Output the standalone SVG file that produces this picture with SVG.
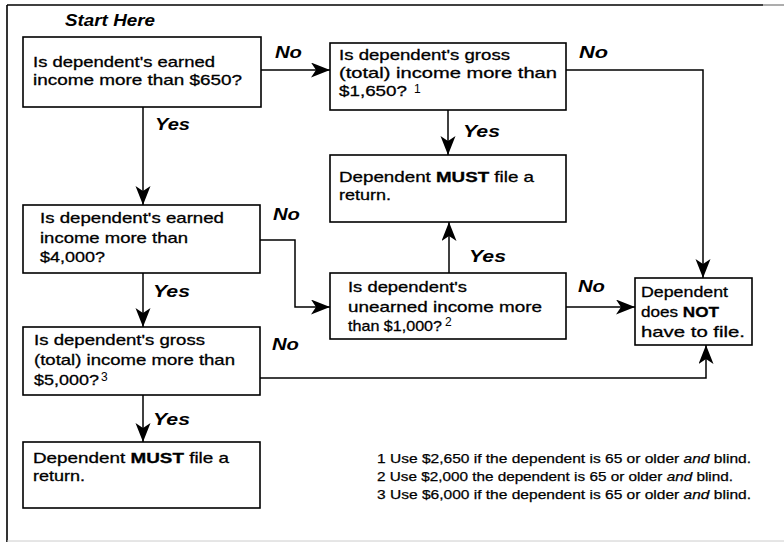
<svg xmlns="http://www.w3.org/2000/svg" width="784" height="542" viewBox="0 0 784 542">
<style>
.box{fill:#fff;stroke:#000;stroke-width:1.6}
.t{font-family:"Liberation Sans",Arial,sans-serif;font-size:15px;fill:#000;stroke:#000;stroke-width:0.3}
.b{font-weight:bold}
.lbl{font-family:"Liberation Sans",Arial,sans-serif;font-size:17px;font-weight:bold;font-style:italic;fill:#000}
.sup{font-family:"Liberation Sans",Arial,sans-serif;font-size:12px;fill:#000}
.fn{font-family:"Liberation Sans",Arial,sans-serif;font-size:13px;fill:#000;stroke:#000;stroke-width:0.25}
.c{fill:none;stroke:#000;stroke-width:1.5}
</style>
<defs>
<marker id="ah" markerUnits="userSpaceOnUse" markerWidth="22" markerHeight="16" refX="19" refY="7.5" orient="auto">
<path d="M0,0 L19,7.5 L0,15 L5,7.5 Z" fill="#000"/>
</marker>
</defs>
<rect width="784" height="542" fill="#fff"/>
<g id="frame">
<line x1="7" y1="5" x2="763" y2="5" stroke="#000" stroke-width="1.6"/>
<line x1="763" y1="5" x2="784" y2="5" stroke="#999" stroke-width="1.6"/>
<line x1="7" y1="5" x2="7" y2="542" stroke="#000" stroke-width="1.6"/>
<line x1="7" y1="541" x2="784" y2="541" stroke="#ccc" stroke-width="1"/>
</g>
<text class="lbl" x="65" y="26" font-size="15" textLength="90" lengthAdjust="spacingAndGlyphs">Start Here</text>
<g id="connectors">
<line class="c" x1="261" y1="70" x2="330" y2="70" marker-end="url(#ah)"/>
<line class="c" x1="143" y1="107" x2="143" y2="205" marker-end="url(#ah)"/>
<line class="c" x1="448" y1="110" x2="448" y2="155" marker-end="url(#ah)"/>
<polyline class="c" points="566,70 703,70 703,278" marker-end="url(#ah)"/>
<polyline class="c" points="260,240 295,240 295,307 330,307" marker-end="url(#ah)"/>
<line class="c" x1="143" y1="273" x2="143" y2="327" marker-end="url(#ah)"/>
<line class="c" x1="449" y1="273" x2="449" y2="222" marker-end="url(#ah)"/>
<line class="c" x1="566" y1="307" x2="635" y2="307" marker-end="url(#ah)"/>
<polyline class="c" points="260,378 706,378 706,345" marker-end="url(#ah)"/>
<line class="c" x1="143" y1="395" x2="143" y2="442" marker-end="url(#ah)"/>
<text class="lbl" x="275" y="58" textLength="27" lengthAdjust="spacingAndGlyphs">No</text>
<text class="lbl" x="155" y="130" textLength="35" lengthAdjust="spacingAndGlyphs">Yes</text>
<text class="lbl" x="579" y="58" textLength="29" lengthAdjust="spacingAndGlyphs">No</text>
<text class="lbl" x="463" y="137" textLength="37" lengthAdjust="spacingAndGlyphs">Yes</text>
<text class="lbl" x="273" y="220" textLength="27" lengthAdjust="spacingAndGlyphs">No</text>
<text class="lbl" x="153" y="297" textLength="37" lengthAdjust="spacingAndGlyphs">Yes</text>
<text class="lbl" x="469" y="262" textLength="37" lengthAdjust="spacingAndGlyphs">Yes</text>
<text class="lbl" x="578" y="292" textLength="27" lengthAdjust="spacingAndGlyphs">No</text>
<text class="lbl" x="272" y="350" textLength="27" lengthAdjust="spacingAndGlyphs">No</text>
<text class="lbl" x="153" y="425" textLength="37" lengthAdjust="spacingAndGlyphs">Yes</text>
</g>
<g id="q1">
<rect class="box" x="23" y="37" width="238" height="70"/>
<text class="t" x="33" y="67" textLength="182" lengthAdjust="spacingAndGlyphs">Is dependent's earned</text>
<text class="t" x="33" y="85" textLength="209" lengthAdjust="spacingAndGlyphs">income more than $650?</text>
</g>
<g id="q2">
<rect class="box" x="330" y="43" width="236" height="67"/>
<text class="t" x="339" y="60" textLength="171" lengthAdjust="spacingAndGlyphs">Is dependent's gross</text>
<text class="t" x="339" y="78" textLength="218" lengthAdjust="spacingAndGlyphs">(total) income more than</text>
<text class="t" x="339" y="96" textLength="68" lengthAdjust="spacingAndGlyphs">$1,650?</text>
<text class="sup" x="414" y="93">1</text>
</g>
<g id="must1">
<rect class="box" x="330" y="155" width="236" height="67"/>
<text class="t" x="339" y="182" textLength="195" lengthAdjust="spacingAndGlyphs">Dependent <tspan class="b">MUST</tspan> file a</text>
<text class="t" x="339" y="200" textLength="52" lengthAdjust="spacingAndGlyphs">return.</text>
</g>
<g id="q3">
<rect class="box" x="23" y="205" width="237" height="68"/>
<text class="t" x="40" y="223" textLength="184" lengthAdjust="spacingAndGlyphs">Is dependent's earned</text>
<text class="t" x="40" y="243" textLength="148" lengthAdjust="spacingAndGlyphs">income more than</text>
<text class="t" x="40" y="262" textLength="65" lengthAdjust="spacingAndGlyphs">$4,000?</text>
</g>
<g id="q4">
<rect class="box" x="330" y="273" width="236" height="66"/>
<text class="t" x="348" y="292" textLength="119" lengthAdjust="spacingAndGlyphs">Is dependent's</text>
<text class="t" x="348" y="312" textLength="194" lengthAdjust="spacingAndGlyphs">unearned income more</text>
<text class="t" x="348" y="331" textLength="94" lengthAdjust="spacingAndGlyphs">than $1,000?</text>
<text class="sup" x="445" y="326" font-size="12">2</text>
</g>
<g id="notfile">
<rect class="box" x="635" y="278" width="117" height="67"/>
<text class="t" x="641" y="297" textLength="87" lengthAdjust="spacingAndGlyphs">Dependent</text>
<text class="t" x="641" y="317" textLength="78" lengthAdjust="spacingAndGlyphs">does <tspan class="b">NOT</tspan></text>
<text class="t" x="641" y="337" textLength="104" lengthAdjust="spacingAndGlyphs">have to file.</text>
</g>
<g id="q5">
<rect class="box" x="23" y="327" width="237" height="68"/>
<text class="t" x="34" y="345" textLength="171" lengthAdjust="spacingAndGlyphs">Is dependent's gross</text>
<text class="t" x="34" y="365" textLength="201" lengthAdjust="spacingAndGlyphs">(total) income more than</text>
<text class="t" x="34" y="385" textLength="65" lengthAdjust="spacingAndGlyphs">$5,000?</text>
<text class="sup" x="101" y="381">3</text>
</g>
<g id="must2">
<rect class="box" x="23" y="442" width="237" height="66"/>
<text class="t" x="33" y="463" textLength="196" lengthAdjust="spacingAndGlyphs">Dependent <tspan class="b">MUST</tspan> file a</text>
<text class="t" x="33" y="481" textLength="52" lengthAdjust="spacingAndGlyphs">return.</text>
</g>
<g id="footnotes">
<text class="fn" x="377" y="463" textLength="374" lengthAdjust="spacingAndGlyphs">1  Use $2,650 if the dependent is 65 or older <tspan font-style="italic">and</tspan> blind.</text>
<text class="fn" x="377" y="481" textLength="356" lengthAdjust="spacingAndGlyphs">2  Use $2,000 the dependent is 65 or older <tspan font-style="italic">and</tspan> blind.</text>
<text class="fn" x="377" y="499" textLength="374" lengthAdjust="spacingAndGlyphs">3  Use $6,000 if the dependent is 65 or older <tspan font-style="italic">and</tspan> blind.</text>
</g>
</svg>
